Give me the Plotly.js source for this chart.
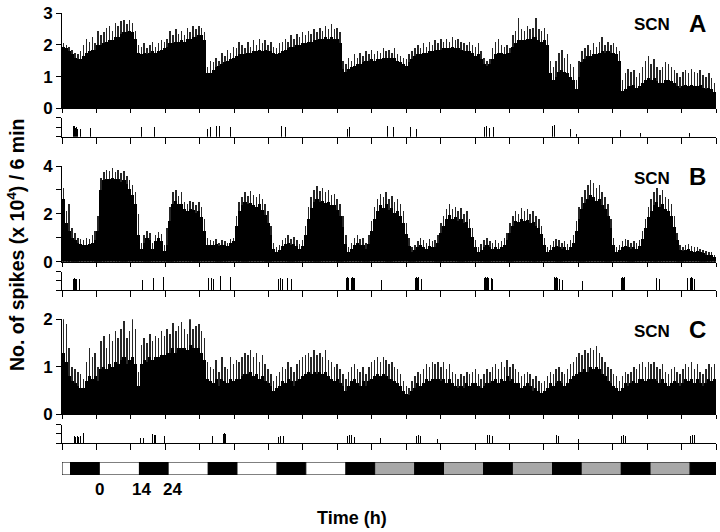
<!DOCTYPE html>
<html><head><meta charset="utf-8">
<script src="https://cdn.plot.ly/plotly-3.0.1.min.js"></script>
<style>html,body{margin:0;padding:0;background:#fff}#chart{width:720px;height:532px}</style>
</head><body><div id="chart"></div>
<script>
// ---------- DATA (hourly bins from h = -13 to 215; values in spikes x 10^4 / 6 min) ----------
// Panel A: solid level and spike peaks
const levelA = [
 1.95,1.9,1.8,1.7,1.6,1.55,1.55,1.65,1.75,1.8,1.85,1.85,
 2.0,2.0,2.05,2.1,2.15,2.15,2.25,2.25,2.35,2.4,2.4,2.45,2.4,2.2,1.75,1.7,1.75,1.7,1.75,1.8,1.75,1.8,1.85,1.9,
 1.95,2.05,2.05,2.1,2.1,2.15,2.1,2.2,2.2,2.25,2.25,2.3,2.3,2.15,1.1,1.1,1.2,1.3,1.35,1.4,1.45,1.5,1.55,1.6,
 1.65,1.7,1.7,1.7,1.75,1.75,1.8,1.8,1.85,1.8,1.85,1.8,1.8,1.75,1.7,1.75,1.8,1.85,1.9,1.95,1.95,2.0,2.0,2.05,
 2.05,2.1,2.1,2.15,2.15,2.2,2.2,2.25,2.2,2.25,2.2,2.2,2.05,1.25,1.15,1.25,1.3,1.35,1.4,1.4,1.45,1.5,1.5,1.55,
 1.5,1.55,1.55,1.6,1.6,1.6,1.6,1.6,1.5,1.45,1.4,1.35,1.45,1.55,1.65,1.7,1.7,1.75,1.75,1.8,1.8,1.85,1.85,1.85,
 1.9,1.9,1.9,1.95,1.9,1.9,1.85,1.8,1.8,1.8,1.75,1.65,1.7,1.55,1.4,1.35,1.4,1.55,1.7,1.75,1.75,1.7,1.75,1.75,
 1.95,2.05,2.15,2.15,2.15,2.2,2.2,2.25,2.25,2.15,2.1,2.15,2.0,1.1,0.9,1.0,1.15,1.2,1.15,1.1,1.0,0.9,0.6,1.0,
 1.45,1.55,1.65,1.65,1.7,1.7,1.75,1.8,1.75,1.8,1.75,1.75,1.7,1.5,0.55,0.6,0.7,0.7,0.75,0.65,0.7,0.8,0.9,0.95,
 0.9,0.95,0.85,0.8,0.8,0.9,0.9,0.85,0.8,0.7,0.65,0.7,0.75,0.7,0.75,0.7,0.7,0.75,0.65,0.6,0.65,0.6,0.5
];
const peakA = [
 2.05,2.0,1.95,1.85,1.75,1.7,1.8,2.0,2.2,2.1,2.25,2.05,
 2.45,2.3,2.4,2.55,2.6,2.45,2.7,2.6,2.75,2.8,2.65,2.8,2.7,2.45,2.0,1.95,2.05,1.9,2.0,2.1,1.95,2.05,2.15,2.1,
 2.2,2.45,2.3,2.5,2.35,2.45,2.3,2.55,2.4,2.6,2.5,2.6,2.55,2.4,1.3,1.5,1.45,1.6,1.5,1.75,1.65,1.85,1.75,1.95,
 1.9,2.1,2.0,1.9,2.1,1.95,2.15,2.0,2.2,2.05,2.15,2.0,2.1,1.95,1.9,2.05,2.1,2.2,2.1,2.3,2.2,2.35,2.25,2.4,
 2.3,2.45,2.35,2.5,2.4,2.55,2.45,2.6,2.5,2.65,2.5,2.55,2.4,1.5,1.4,1.6,1.5,1.7,1.6,1.75,1.65,1.8,1.7,1.85,
 1.7,1.8,1.75,1.9,1.8,1.85,1.75,1.9,1.7,1.65,1.6,1.55,1.7,1.8,1.9,2.0,1.9,2.05,1.95,2.1,2.0,2.15,2.05,2.2,
 2.1,2.2,2.1,2.25,2.15,2.2,2.1,2.05,2.0,2.1,2.0,1.95,2.05,1.8,1.6,1.5,1.55,1.9,2.1,2.2,2.0,1.95,2.0,1.9,
 2.3,2.45,2.84,2.5,2.45,2.6,2.5,2.55,2.84,2.5,2.45,2.55,2.35,1.5,1.3,1.5,1.75,1.85,1.6,1.7,1.4,1.3,0.9,1.5,
 1.8,1.9,2.0,1.85,2.05,1.95,2.1,2.25,2.0,2.1,2.0,2.05,1.95,1.8,0.9,1.1,1.25,1.15,1.2,1.0,1.1,1.3,1.5,1.65,
 1.4,1.55,1.3,1.2,1.3,1.45,1.4,1.3,1.2,1.1,1.0,1.15,1.2,1.1,1.25,1.15,1.1,1.2,1.05,1.0,1.1,0.95,0.8
];
// Panel B
const levelB = [
 2.6,1.6,1.3,1.0,0.9,0.8,0.75,0.7,0.7,0.75,0.8,0.9,
 1.3,3.0,3.4,3.45,3.45,3.5,3.45,3.45,3.35,3.4,3.25,3.05,2.8,2.4,1.1,0.55,0.8,1.0,0.9,0.55,0.85,1.0,0.85,0.45,
 0.7,1.7,2.4,2.55,2.4,2.4,2.2,2.1,2.2,2.15,2.05,2.1,1.85,1.3,0.7,0.7,0.7,0.75,0.65,0.7,0.7,0.65,0.8,0.85,
 1.5,2.1,2.35,2.5,2.4,2.45,2.35,2.3,2.4,2.15,1.95,1.6,1.1,0.55,0.4,0.5,0.65,0.75,0.8,0.7,0.75,0.65,0.55,0.65,
 1.1,1.8,2.25,2.5,2.6,2.5,2.55,2.45,2.5,2.35,2.35,2.15,1.9,1.45,0.75,0.4,0.55,0.7,0.8,0.7,0.7,0.55,0.75,1.3,
 1.8,2.1,2.35,2.25,2.4,2.15,2.25,2.05,2.1,1.9,1.6,1.15,0.65,0.4,0.5,0.6,0.7,0.6,0.55,0.65,0.6,0.6,0.8,1.2,
 1.5,1.8,1.95,1.8,1.85,1.7,1.8,1.6,1.65,1.4,1.05,0.6,0.4,0.5,0.6,0.7,0.6,0.55,0.6,0.55,0.6,0.7,0.9,1.2,
 1.5,1.7,1.65,1.8,1.7,1.75,1.6,1.65,1.5,1.4,1.15,0.7,0.4,0.5,0.6,0.65,0.6,0.55,0.6,0.5,0.6,0.8,1.3,1.8,
 2.2,2.45,2.6,2.8,2.7,2.55,2.6,2.35,2.2,1.9,1.4,0.7,0.4,0.5,0.6,0.65,0.6,0.55,0.6,0.55,0.65,0.95,1.4,1.85,
 2.1,2.35,2.5,2.3,2.4,2.2,2.1,1.9,1.45,0.9,0.5,0.45,0.5,0.55,0.45,0.4,0.45,0.4,0.35,0.3,0.3,0.28,0.2
];
const peakB = [
 3.1,2.1,2.4,1.4,1.2,1.0,0.95,0.9,1.0,0.95,1.1,1.3,
 1.9,3.5,3.75,3.85,3.8,3.9,3.75,3.85,3.7,3.8,3.6,3.4,3.2,2.9,2.0,0.8,1.1,1.3,1.2,0.8,1.1,1.25,1.15,0.7,
 1.4,2.3,2.9,3.0,2.75,2.9,2.5,2.4,2.55,2.5,2.35,2.5,2.3,1.8,1.0,0.9,0.85,0.95,0.8,0.9,0.85,0.8,0.95,1.0,
 1.9,2.5,2.7,2.9,2.75,2.95,2.8,2.7,2.85,2.6,2.4,2.1,1.5,0.8,0.6,0.7,0.9,1.0,1.1,0.95,1.05,0.9,0.75,0.9,
 1.5,2.3,2.7,3.0,3.15,2.95,3.1,2.9,3.0,2.8,2.85,2.6,2.4,1.9,1.1,0.6,0.8,1.0,1.1,0.95,1.0,0.8,1.1,1.7,
 2.3,2.6,2.85,2.7,2.9,2.6,2.75,2.5,2.6,2.4,2.1,1.6,1.0,0.6,0.7,0.85,1.0,0.9,0.8,0.95,0.85,0.9,1.1,1.6,
 1.9,2.2,2.4,2.2,2.3,2.1,2.25,2.0,2.1,1.8,1.4,0.9,0.6,0.75,0.9,1.0,0.85,0.8,0.9,0.8,0.85,1.0,1.2,1.6,
 1.9,2.1,2.0,2.25,2.1,2.2,2.0,2.1,1.9,1.8,1.5,1.0,0.6,0.7,0.85,0.95,0.9,0.8,0.85,0.75,0.9,1.1,1.7,2.3,
 2.7,3.0,3.2,3.4,3.3,3.1,3.2,2.9,2.7,2.4,1.8,1.0,0.6,0.7,0.85,0.95,0.9,0.8,0.85,0.8,0.9,1.3,1.8,2.3,
 2.6,2.9,3.1,2.8,3.0,2.7,2.6,2.4,1.9,1.2,0.7,0.6,0.7,0.75,0.65,0.6,0.6,0.55,0.5,0.45,0.4,0.4,0.3
];
// Panel C
const levelC = [
 1.3,1.1,0.8,0.7,0.65,0.6,0.55,0.55,0.7,0.8,0.75,0.8,
 0.7,0.95,1.0,0.95,1.05,1.0,1.1,1.05,1.15,1.2,1.05,1.15,1.2,1.05,0.6,1.05,1.15,1.1,1.2,1.15,1.2,1.2,1.25,1.25,
 1.3,1.3,1.4,1.3,1.4,1.4,1.4,1.35,1.45,1.4,1.4,1.4,1.3,1.15,0.75,0.7,0.65,0.75,0.6,0.75,0.7,0.65,0.75,0.7,
 0.75,0.75,0.8,0.85,0.85,0.9,0.8,0.85,0.75,0.8,0.7,0.65,0.6,0.5,0.55,0.6,0.7,0.65,0.75,0.7,0.6,0.7,0.75,0.8,
 0.85,0.9,0.85,0.9,0.85,0.9,0.85,0.9,0.8,0.75,0.7,0.75,0.65,0.6,0.5,0.6,0.7,0.75,0.65,0.6,0.7,0.6,0.7,0.75,
 0.8,0.85,0.8,0.85,0.8,0.75,0.75,0.7,0.65,0.6,0.5,0.42,0.4,0.5,0.55,0.65,0.6,0.65,0.75,0.7,0.75,0.75,0.75,0.7,
 0.75,0.65,0.75,0.65,0.6,0.55,0.6,0.55,0.65,0.6,0.65,0.65,0.6,0.55,0.6,0.65,0.65,0.7,0.75,0.65,0.75,0.7,0.8,0.7,
 0.75,0.65,0.65,0.55,0.6,0.65,0.6,0.5,0.55,0.5,0.45,0.5,0.55,0.65,0.6,0.65,0.7,0.65,0.6,0.65,0.75,0.8,0.85,0.9,
 0.9,0.95,0.9,1.0,0.95,1.0,0.95,0.85,0.8,0.7,0.65,0.6,0.55,0.5,0.55,0.65,0.6,0.65,0.7,0.65,0.75,0.75,0.7,0.75,
 0.75,0.75,0.7,0.65,0.75,0.65,0.6,0.65,0.7,0.65,0.6,0.65,0.75,0.7,0.75,0.65,0.75,0.65,0.6,0.65,0.75,0.7,0.75
];
const peakC = [
 2.0,1.9,1.4,1.0,0.95,0.9,0.85,0.75,1.1,1.4,1.2,1.3,
 1.0,1.55,1.65,1.4,1.7,1.55,1.75,1.6,1.8,1.97,1.6,1.75,2.0,1.8,0.9,1.45,1.6,1.5,1.7,1.55,1.65,1.6,1.75,1.65,
 1.8,1.7,1.92,1.75,1.85,1.95,1.8,1.7,2.0,1.8,1.85,1.9,1.75,1.6,1.1,1.0,0.95,1.15,0.9,1.2,1.0,0.95,1.2,1.05,
 1.15,1.1,1.2,1.3,1.25,1.35,1.2,1.3,1.1,1.25,1.05,0.95,0.85,0.7,0.8,0.9,1.0,0.95,1.1,1.0,0.9,1.05,1.15,1.2,
 1.25,1.3,1.2,1.35,1.25,1.3,1.2,1.35,1.15,1.1,1.0,1.05,0.95,0.85,0.75,0.9,1.0,1.05,0.95,0.9,1.0,0.85,1.0,1.1,
 1.15,1.2,1.1,1.2,1.15,1.05,1.1,1.0,0.95,0.85,0.7,0.6,0.55,0.7,0.8,0.9,0.85,0.95,1.05,1.0,1.1,1.05,1.1,1.0,
 1.1,0.95,1.05,0.9,0.85,0.75,0.85,0.8,0.9,0.85,0.9,0.95,0.85,0.75,0.85,0.95,0.9,1.0,1.05,0.95,1.1,1.0,1.15,1.0,
 1.05,0.95,0.9,0.8,0.85,0.9,0.85,0.75,0.8,0.7,0.65,0.7,0.8,0.9,0.85,0.95,1.0,0.9,0.85,0.95,1.05,1.1,1.2,1.3,
 1.25,1.35,1.3,1.4,1.35,1.43,1.3,1.2,1.1,1.0,0.95,0.85,0.8,0.7,0.8,0.9,0.85,0.9,1.0,0.95,1.05,1.1,1.0,1.1,
 1.05,1.1,1.0,0.95,1.05,0.9,0.85,0.95,1.0,0.9,0.85,0.95,1.05,1.0,1.1,0.95,1.05,0.9,0.85,0.95,1.05,1.0,1.05
];
// Activity (lower strips): event time (h) and height (axis 0-2)
const actTimeA = [-9.5,-9.1,-8.7,-8.3,-7.9,-7.5,-6.6,-3.2,14.7,19.3,37.8,38.8,40.9,42.0,45.7,62.3,63.5,64.8,66.5,86.5,87.2,97.5,100.5,102.5,108.5,110.5,134.2,135.0,136.0,137.5,158.0,158.8,164.2,166.3,181.8,188.7,205.8];
const actValA  = [1.0,1.1,1.1,0.9,1.0,0.8,0.85,0.9,1.0,1.0,0.8,1.0,1.1,1.1,1.0,0.9,1.1,1.0,0.9,0.8,1.0,0.9,1.1,1.0,1.0,0.8,1.0,1.1,0.9,1.0,1.1,1.2,0.8,0.3,0.7,0.4,0.4];
const actTimeB = [-9.2,-8.9,-8.6,-8.3,-8.0,-7.4,-6.8,-2.9,15.2,18.9,22.5,38.1,38.6,39.2,39.8,42.3,45.8,62.5,63.2,64.0,65.5,67.0,86.2,86.6,87.0,87.4,87.8,88.2,88.6,89.0,89.5,98.5,110.2,110.6,111.0,111.4,111.8,112.2,134.2,134.6,135.0,135.4,135.8,136.2,136.6,137.0,158.2,158.6,159.0,159.4,159.8,160.4,161.5,168.5,182.0,182.4,182.8,183.2,183.6,184.0,185.0,194.2,194.8,195.4,205.2,205.6,206.0,206.4,206.8,207.4];
const actValB  = [1.3,1.25,1.3,1.2,1.25,1.2,1.2,1.0,1.1,1.3,1.45,1.3,1.2,1.3,1.25,1.5,1.45,1.2,1.3,1.25,1.3,1.2,1.3,1.4,1.35,1.4,1.3,1.4,1.35,1.3,1.2,1.1,1.3,1.4,1.35,1.4,1.3,1.2,1.3,1.4,1.35,1.4,1.3,1.4,1.35,1.2,1.3,1.4,1.35,1.4,1.3,1.2,1.1,1.0,1.3,1.4,1.35,1.4,1.3,1.2,1.1,1.3,1.4,1.2,1.3,1.4,1.35,1.4,1.3,1.2];
const actTimeC = [-9.2,-8.7,-8.2,-7.7,-7.2,-6.6,-5.5,-1.5,14.5,15.4,18.0,18.6,19.2,19.7,22.8,37.2,39.4,43.2,43.7,44.1,62.5,63.3,64.2,65.8,74.5,86.5,87.2,88.0,89.0,98.0,110.5,111.2,112.0,118.0,134.5,135.2,136.0,137.0,147.0,158.5,159.3,160.0,167.0,182.0,182.8,183.5,206.0,206.7,207.5,210.5];
const actValC  = [0.75,0.8,0.7,0.75,0.7,0.8,1.1,0.6,0.55,0.5,0.9,0.95,0.9,0.85,0.8,0.2,0.8,1.0,1.1,1.0,0.7,0.8,0.75,0.7,0.5,0.8,0.9,0.85,0.7,0.6,0.8,0.9,0.8,0.4,0.8,0.9,0.85,0.8,0.4,0.8,0.9,0.8,0.4,0.8,0.9,0.8,0.8,0.9,0.85,0.5];
// Light schedule bar: segment starts/ends (h) and phase (L light, D dark, G dim)
const ldStart = [-13,-10,0,14,24,38,48,62,72,86,96,110,120,134,144,158,168,182,192,206];
const ldEnd   = [-10,0,14,24,38,48,62,72,86,96,110,120,134,144,158,168,182,192,206,215];
const ldPhase = ['L','D','L','D','L','D','L','D','L','D','G','D','G','D','G','D','G','D','G','D'];
const ldTickVals = [0, 14, 24];
const ldTickText = ['0', '14', '24'];
const panelNames = ['A', 'B', 'C'];

// ---------- LAYOUT HELPERS ----------
const W = 720, H = 532, ML = 62, MR = 4;
const X_RANGE = [-13, 215];
const py = y => 1 - y / H;                      // pixel y -> paper
const pxp = x => (x - ML) / (W - ML - MR);      // pixel x -> paper
const FONT = 'Liberation Sans, Arial, Helvetica, sans-serif';
const nBins = levelA.length;
const binW = (X_RANGE[1] - X_RANGE[0]) / nBins;
const centers = levelA.map((_, i) => X_RANGE[0] + (i + 0.5) * binW);

function xAx(anchor, len) {
  return {range: X_RANGE, anchor: anchor, showline: true, linecolor: '#000', linewidth: 1,
    ticks: 'outside', ticklen: len, tickwidth: 1, tickcolor: '#000', tickmode: 'linear',
    tick0: -13, dtick: 12, showticklabels: false, showgrid: false, zeroline: false, fixedrange: true};
}
function yAx(anchor, dom, range, vals, text, len, minorVals) {
  const ax = {domain: dom, range: range, anchor: anchor, showline: true, linecolor: '#000', linewidth: 1,
    ticks: 'outside', ticklen: len, tickwidth: 1, tickcolor: '#000', tickmode: 'array',
    tickvals: vals, showgrid: false, zeroline: false, fixedrange: true,
    tickfont: {family: FONT, size: 17, color: '#000'}};
  if (text) { ax.ticktext = text; ax.showticklabels = true; } else { ax.showticklabels = false; }
  if (minorVals) ax.minor = {tickmode: 'array', tickvals: minorVals, ticks: 'outside', ticklen: len,
    tickwidth: 1, tickcolor: '#000', showgrid: false};
  return ax;
}
const b = s => '<b>' + s + '</b>';

const mainDom = [[py(108.3), py(13.3)], [py(261.7), py(166)], [py(414.3), py(319.3)]];
const actDom  = [[py(136.7), py(117.7)], [py(290), py(271.7)], [py(443), py(424.7)]];
const mainRange = [[0, 3], [0, 4], [0, 2]];
const mainTicks = [[0,1,2,3], [0,2,4], [0,1,2]];
const mainText = [['0','1','2','3'], ['0','2','4'], ['0','1','2']];
const mainMinor = [null, [1, 3], null];
const levels = [levelA, levelB, levelC];
const peaks = [peakA, peakB, peakC];
const actT = [actTimeA, actTimeB, actTimeC];
const actV = [actValA, actValB, actValC];

const traces = [];
const layout = {
  width: W, height: H, margin: {l: ML, r: MR, t: 0, b: 0},
  paper_bgcolor: '#fff', plot_bgcolor: 'rgba(0,0,0,0)', showlegend: false,
  barmode: 'overlay', bargap: 0, font: {family: FONT, color: '#000'}, annotations: []
};

for (let p = 0; p < 3; p++) {
  const mi = 2 * p + 1, ai = 2 * p + 2;
  const mx = 'x' + mi, my = 'y' + mi, ax = 'x' + ai, ay = 'y' + ai;
  traces.push({type: 'bar', x: centers, y: peaks[p], width: binW * 0.5, xaxis: mx, yaxis: my,
    marker: {color: '#262626', line: {width: 0}}, hoverinfo: 'skip'});
  traces.push({type: 'bar', x: centers, y: levels[p], width: binW * 1.08, xaxis: mx, yaxis: my,
    marker: {color: '#000', line: {width: 0}}, hoverinfo: 'skip'});
  traces.push({type: 'bar', x: actT[p], y: actV[p], width: 0.28, xaxis: ax, yaxis: ay,
    marker: {color: '#000', line: {width: 0}}, hoverinfo: 'skip'});
  layout['xaxis' + (mi === 1 ? '' : mi)] = xAx(my, 4);
  layout['yaxis' + (mi === 1 ? '' : mi)] = yAx(mx, mainDom[p], mainRange[p], mainTicks[p], mainText[p].map(b), 5, mainMinor[p]);
  layout['xaxis' + ai] = xAx(ay, 6);
  layout['yaxis' + ai] = yAx(ax, actDom[p], [0, 2], [0, 1, 2], null, 5, null);
}

// light/dark bar
const phaseColor = {L: '#ffffff', D: '#000000', G: '#a8a8a8'};
traces.push({type: 'bar', orientation: 'h', y: ldPhase.map(() => 0),
  x: ldStart.map((s, i) => ldEnd[i] - s), base: ldStart, width: 1, xaxis: 'x7', yaxis: 'y7',
  marker: {color: ldPhase.map(k => phaseColor[k]), line: {color: '#000', width: 1}}, hoverinfo: 'skip'});
layout.xaxis7 = {range: X_RANGE, anchor: 'y7', showline: false, ticks: '', showticklabels: false,
  showgrid: false, zeroline: false, fixedrange: true};
layout.yaxis7 = {domain: [py(475), py(462)], range: [-0.5, 0.5], anchor: 'x7', showline: false,
  ticks: '', showticklabels: false, showgrid: false, zeroline: false, fixedrange: true};

const ldShift = [0, 2, 4];
ldTickVals.forEach((v, i) => layout.annotations.push({xref: 'x7', yref: 'paper', x: v, y: py(489),
  xshift: ldShift[i], text: b(ldTickText[i]), showarrow: false, xanchor: 'center', yanchor: 'middle',
  font: {family: FONT, size: 17, color: '#000'}}));

// panel labels
const scnY = [25, 178, 331];
const letterY = [23.5, 176, 329];
panelNames.forEach((nm, i) => {
  layout.annotations.push({xref: 'paper', yref: 'paper', x: pxp(652), y: py(scnY[i]), text: '<b>SCN</b>',
    showarrow: false, xanchor: 'center', yanchor: 'middle', font: {family: FONT, size: 17, color: '#000'}});
  layout.annotations.push({xref: 'paper', yref: 'paper', x: pxp(697.5), y: py(letterY[i]), text: b(nm),
    showarrow: false, xanchor: 'center', yanchor: 'middle', font: {family: FONT, size: 24, color: '#000'}});
});
// axis titles
layout.annotations.push({xref: 'paper', yref: 'paper', x: pxp(16), y: py(245), textangle: -90,
  text: '<b>No. of spikes (x 10<sup>4</sup>) / 6 min</b>', showarrow: false, xanchor: 'center', yanchor: 'middle',
  font: {family: FONT, size: 19.5, color: '#000'}});
layout.annotations.push({xref: 'paper', yref: 'paper', x: pxp(352), y: py(518),
  text: '<b>Time (h)</b>', showarrow: false, xanchor: 'center', yanchor: 'middle',
  font: {family: FONT, size: 18, color: '#000'}});

Plotly.newPlot('chart', traces, layout, {staticPlot: true, displayModeBar: false});
</script>
</body></html>
